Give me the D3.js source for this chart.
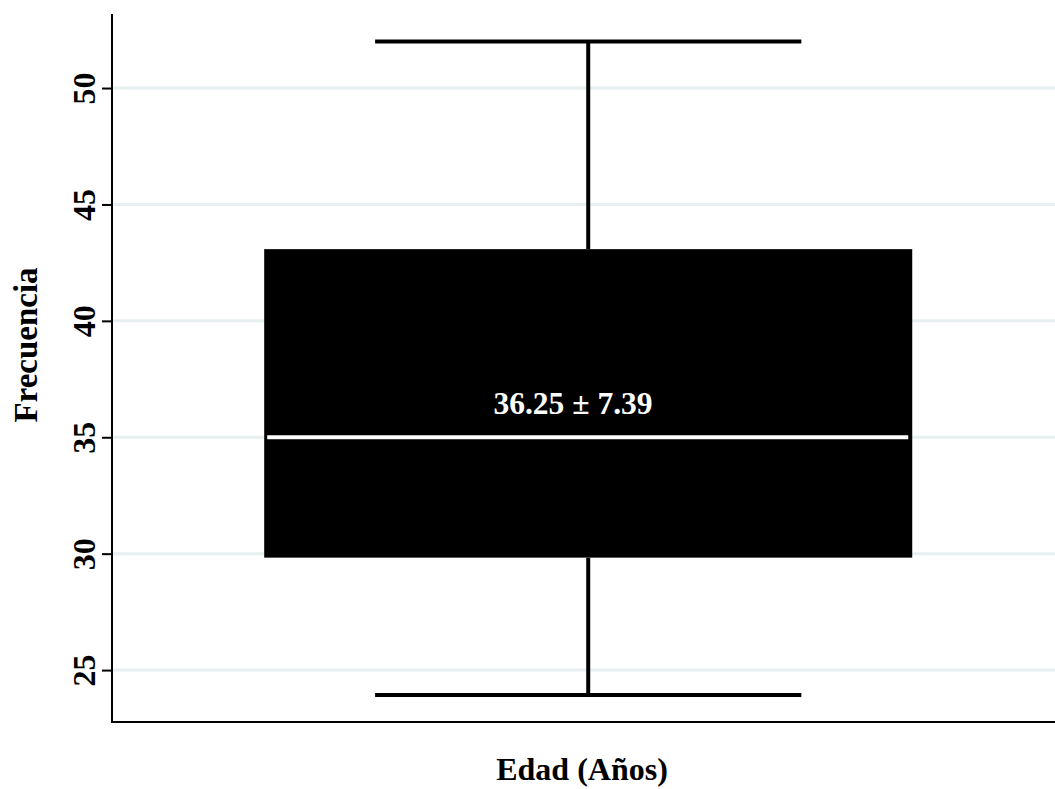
<!doctype html>
<html>
<head>
   <meta charset="utf-8">
   <title>Edad (Años)</title>
   <style>
      body { margin: 0; background: #fff; }
      text { font-family: "Liberation Serif", "Times New Roman", serif; font-weight: bold; }
   </style>
   <script src="https://d3js.org/d3.v7.min.js"></script>
</head>
<body>
<svg width="1055" height="789"></svg>
<script>
   // box plot summary values
   var STATS_NAMES = ["min", "q1", "median", "q3", "max"];
   var STATS_VALUES = [23.93, 29.83, 35.0, 43.08, 52.0];
   var Y_TICKS = [25, 30, 35, 40, 45, 50];
   var BOX_LABEL = "36.25 \u00b1 7.39";
   var X_TITLE = "Edad (A\u00f1os)";
   var Y_TITLE = "Frecuencia";

   const plotLeft = 112, plotRight = 1055, plotTop = 14, plotBottom = 722;

   const stats = {};
   STATS_NAMES.forEach(function(n, i) { stats[n] = STATS_VALUES[i]; });

   const ys = d3.scaleLinear().domain([22.77, 53.18]).range([plotBottom, plotTop]);
   const xs = d3.scaleLinear().domain([0, 1]).range([plotLeft, plotRight]);

   const svg = d3.select("svg");

   // grid
   svg.append("g")
      .selectAll("line")
         .data(Y_TICKS)
         .enter()
            .append("line")
               .attr("x1", plotLeft + 1)
               .attr("x2", plotRight)
               .attr("y1", function(d) { return ys(d); })
               .attr("y2", function(d) { return ys(d); })
               .attr("stroke", "#e8eff1")
               .attr("stroke-width", 3);

   const center = 0.505, boxHalf = 0.3436, capHalf = 0.226;
   const cx = xs(center);

   // whiskers
   svg.append("line")
      .attr("x1", cx).attr("x2", cx)
      .attr("y1", ys(stats.min)).attr("y2", ys(stats.q1))
      .attr("stroke", "black").attr("stroke-width", 4);
   svg.append("line")
      .attr("x1", cx).attr("x2", cx)
      .attr("y1", ys(stats.q3)).attr("y2", ys(stats.max))
      .attr("stroke", "black").attr("stroke-width", 4);

   svg.selectAll("line.cap")
      .data([stats.min, stats.max])
      .enter()
         .append("line")
            .attr("class", "cap")
            .attr("x1", xs(center - capHalf))
            .attr("x2", xs(center + capHalf))
            .attr("y1", function(d) { return ys(d); })
            .attr("y2", function(d) { return ys(d); })
            .attr("stroke", "black")
            .attr("stroke-width", 4);

   // box
   svg.append("rect")
      .attr("x", xs(center - boxHalf))
      .attr("width", xs(center + boxHalf) - xs(center - boxHalf))
      .attr("y", ys(stats.q3))
      .attr("height", ys(stats.q1) - ys(stats.q3))
      .attr("fill", "black");

   // median
   svg.append("line")
      .attr("x1", xs(center - boxHalf) + 3)
      .attr("x2", xs(center + boxHalf) - 4)
      .attr("y1", ys(stats.median))
      .attr("y2", ys(stats.median))
      .attr("stroke", "white")
      .attr("stroke-width", 4);

   svg.append("text")
      .attr("x", 573)
      .attr("y", ys(stats.median) - 23)
      .attr("text-anchor", "middle")
      .attr("fill", "white")
      .attr("font-size", 31.5)
      .text(BOX_LABEL);

   // axes
   const yAxis = svg.append("g")
      .attr("transform", "translate(" + plotLeft + ",0)")
      .call(d3.axisLeft(ys).tickValues(Y_TICKS).tickSize(10).tickPadding(0).tickFormat(d3.format("d")));
   yAxis.select(".domain").remove();
   yAxis.selectAll(".tick line").attr("stroke-width", 2);
   yAxis.selectAll(".tick text")
      .attr("transform", "translate(-17,0) rotate(-90)")
      .attr("x", 0).attr("y", 0).attr("dy", 0)
      .attr("text-anchor", "middle")
      .attr("font-size", 32)
      .attr("fill", "black");
   yAxis.attr("font-family", null).attr("font-size", null);

   svg.append("line")
      .attr("x1", plotLeft).attr("x2", plotLeft)
      .attr("y1", plotTop).attr("y2", plotBottom + 1)
      .attr("stroke", "black").attr("stroke-width", 2);
   svg.append("line")
      .attr("x1", plotLeft - 1).attr("x2", plotRight)
      .attr("y1", plotBottom).attr("y2", plotBottom)
      .attr("stroke", "black").attr("stroke-width", 2);

   // titles
   svg.append("text")
      .attr("transform", "translate(37,345) rotate(-90)")
      .attr("text-anchor", "middle")
      .attr("font-size", 33)
      .text(Y_TITLE);

   svg.append("text")
      .attr("x", 582)
      .attr("y", 780)
      .attr("text-anchor", "middle")
      .attr("font-size", 32)
      .text(X_TITLE);
</script>
</body>
</html>
